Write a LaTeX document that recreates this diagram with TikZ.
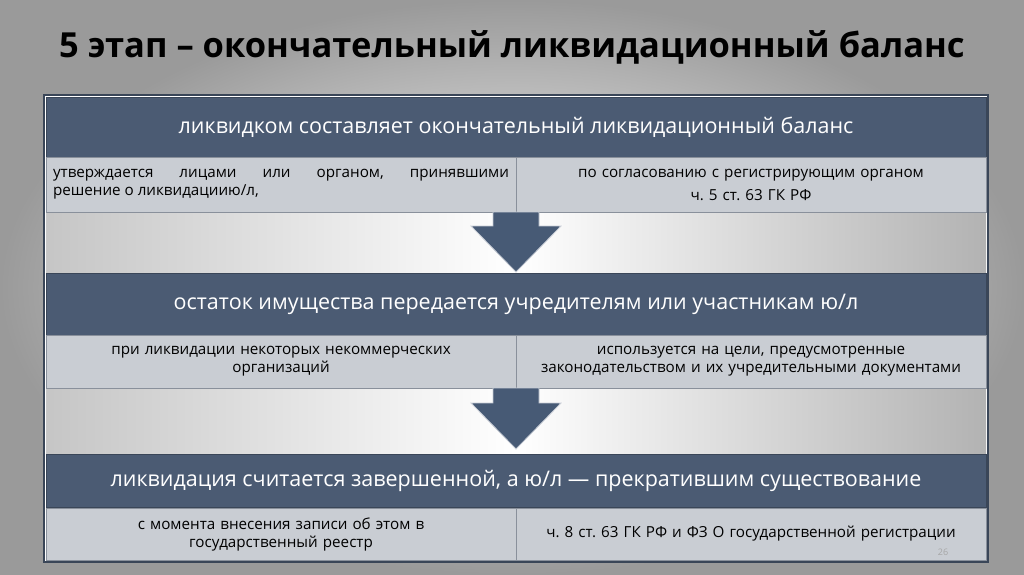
\documentclass[tikz,border=0pt]{standalone}
\usepackage{fontspec}
\setmainfont{Open Sans}
\frenchspacing
\tikzset{
 hdr/.style={fill=hdrc, draw=framec, line width=1pt, text=white, font=\fontsize{21.5}{25}\selectfont},
 sub/.style={fill=subc, draw=framec!60, line width=0.8pt, font=\fontsize{15.2}{18}\selectfont, align=center},
 arr/.style={fill=arrc, draw=white!70!arrc, line width=0.8pt}
}
\definecolor{hdrc}{HTML}{4B5B73}
\definecolor{framec}{HTML}{3A4658}
\definecolor{subc}{HTML}{C9CDD3}
\definecolor{arrc}{HTML}{475A75}
\definecolor{bgc}{HTML}{9A9A9A}
\begin{document}
\begin{tikzpicture}[x=1pt,y=-1pt]
\useasboundingbox (0,0) rectangle (1024,574);
\shade[outer color=bgc, inner color=white] (0,0) rectangle (1024,574);
\node[font=\bfseries\fontsize{34.5}{40}\selectfont] (title) at (512,47) {5 этап -- окончательный ликвидационный баланс};
\draw[framec, line width=1.5pt, fill=white] (44,95) rectangle (988,562);
% gaps
\shade[left color=gray!45, right color=gray!60, middle color=white] (46,212) rectangle (986,273);
\shade[left color=gray!45, right color=gray!60, middle color=white] (46,388) rectangle (986,455);
% headers
\node[hdr, minimum width=940pt, minimum height=60pt] (h1) at (516,127) {ликвидком составляет окончательный ликвидационный баланс};
\node[hdr, minimum width=940pt, minimum height=62pt] (h2) at (516,304) {остаток имущества передается учредителям или участникам ю/л};
\node[hdr, minimum width=940pt, minimum height=53pt] (h3) at (516,481) {ликвидация считается завершенной, а ю/л — прекратившим существование};
% sub rows
\node[sub, minimum width=470pt, minimum height=55pt, text width=456pt, align=justify] (a1) at (281,184.5) {утверждается лицами или органом, принявшими\linebreak решение о ликвидациию/л,};
\node[sub, minimum width=470pt, minimum height=55pt, text width=456pt] (b1) at (751,184.5) {по согласованию с регистрирующим органом\\[5pt] ч. 5 ст. 63 ГК РФ};
\node[sub, minimum width=470pt, minimum height=53pt, text width=456pt] (a2) at (281,361.5) {при ликвидации некоторых некоммерческих\\ организаций};
\node[sub, minimum width=470pt, minimum height=53pt, text width=456pt] (b2) at (751,361.5) {используется на цели, предусмотренные\\ законодательством и их учредительными документами};
\node[sub, minimum width=470pt, minimum height=52pt, text width=456pt] (a3) at (281,534) {с момента внесения записи об этом в\\ государственный реестр};
\node[sub, minimum width=470pt, minimum height=52pt, text width=456pt] (b3) at (751,534) {ч. 8 ст. 63 ГК РФ и ФЗ О государственной регистрации};
% arrows
\draw[arr] (493,212) -- (539,212) -- (539,226) -- (561,226) -- (516,272) -- (471,226) -- (493,226) -- cycle;
\draw[arr] (493,388) -- (539,388) -- (539,403) -- (561,403) -- (516,449) -- (471,403) -- (493,403) -- cycle;
\node[text=gray!70, font=\fontsize{9}{10}\selectfont] (pg) at (943,552) {26};
\end{tikzpicture}
\end{document}
